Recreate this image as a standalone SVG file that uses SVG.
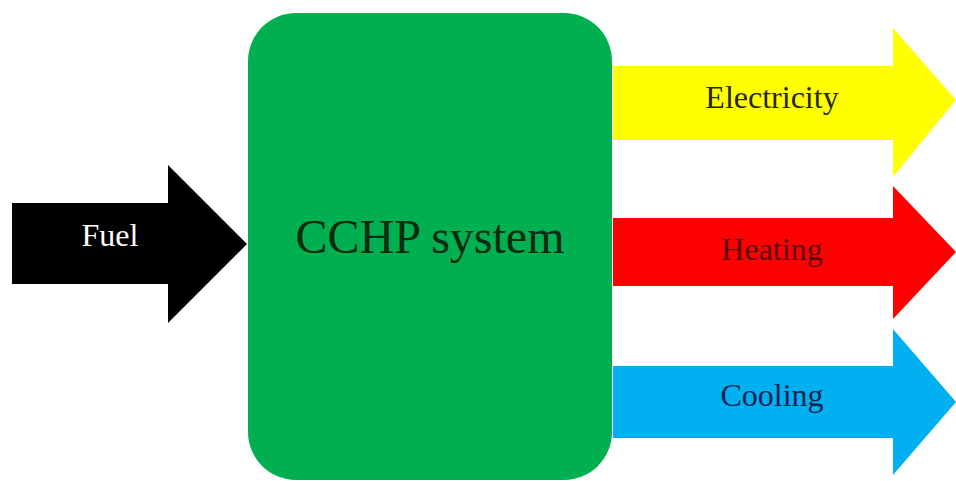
<svg xmlns="http://www.w3.org/2000/svg" width="956" height="481" viewBox="0 0 956 481">
  <style>
    .lbl { font-family: "Liberation Serif", "Times New Roman", serif; font-size: 32px; text-anchor: middle; }
    .main { font-family: "Liberation Serif", "Times New Roman", serif; font-size: 48px; text-anchor: middle; fill: #0b2a12; }
  </style>
  <rect width="956" height="481" fill="#ffffff"/>

  <!-- central system block -->
  <g id="cchp">
    <rect x="248" y="13" width="364" height="467" rx="48" ry="48" fill="#00b050"/>
    <text class="main" x="430" y="253">CCHP system</text>
  </g>

  <!-- flow arrows into and out of the system -->
  <g id="connectors">
    <g id="fuel">
      <polygon points="12,203 168,203 168,165 247,244 168,323 168,284 12,284" fill="#000000"/>
      <text class="lbl" x="110" y="246" fill="#ffffff">Fuel</text>
    </g>
    <g id="electricity">
      <polygon points="613,66 893,66 893,28 956,100 893,177 893,140 613,140" fill="#ffff00"/>
      <text class="lbl" x="772" y="108" fill="#26260e">Electricity</text>
    </g>
    <g id="heating">
      <polygon points="613,218 893,218 893,186 956,252 893,319 893,286 613,286" fill="#ff0000"/>
      <text class="lbl" x="772" y="260" fill="#5a0a0a">Heating</text>
    </g>
    <g id="cooling">
      <polygon points="613,366 893,366 893,329 956,402 893,475 893,438 613,438" fill="#00b0f0"/>
      <text class="lbl" x="772" y="406" fill="#0e2350">Cooling</text>
    </g>
  </g>
</svg>
